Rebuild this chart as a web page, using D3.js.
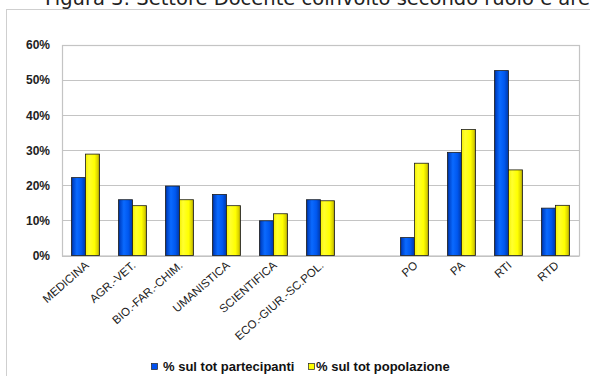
<!DOCTYPE html>
<html>
<head>
<meta charset="utf-8">
<script src="https://cdn.jsdelivr.net/npm/d3@7"></script>
<style>
  html, body { margin: 0; padding: 0; background: #ffffff; }
  svg { display: block; }
</style>
</head>
<body>
<svg id="chart" width="590" height="376"></svg>
<script>
// Categories (an empty slot separates the areas from the roles)
const categories = ["MEDICINA", "AGR.-VET.", "BIO.-FAR.-CHIM.", "UMANISTICA", "SCIENTIFICA",
                    "ECO.-GIUR.-SC.POL.", "", "PO", "PA", "RTI", "RTD"];
// Percent values per category
const partecipanti = [22.2, 15.9, 19.8, 17.4, 9.9, 15.9, null, 5.1, 29.4, 52.7, 13.5];
const popolazione  = [28.9, 14.2, 15.9, 14.2, 11.9, 15.6, null, 26.3, 35.9, 24.4, 14.3];
const seriesNames  = ["% sul tot partecipanti", "% sul tot popolazione"];
const yTicks = [0, 10, 20, 30, 40, 50, 60];
const titleText = "Figura 3: Settore Docente coinvolto secondo ruolo e area";

const svg = d3.select("#chart");
const plot = { left: 62, right: 579, top: 45, bottom: 255.5 };

// Gradients giving the bars their rounded, shaded look
const defs = svg.append("defs");
function grad(id, stops) {
  const g = defs.append("linearGradient").attr("id", id)
    .attr("x1", "0%").attr("x2", "100%").attr("y1", "0%").attr("y2", "0%");
  stops.forEach(([o, c]) => g.append("stop").attr("offset", o).attr("stop-color", c));
}
grad("gBlue", [["0%", "#002c8a"], ["14%", "#0048d0"], ["38%", "#0a6aff"], ["70%", "#0058f0"], ["100%", "#0038a8"]]);
grad("gYellow", [["0%", "#f4f000"], ["25%", "#ffff30"], ["65%", "#ffff00"], ["88%", "#d8d000"], ["100%", "#9a9000"]]);
const fills = ["url(#gBlue)", "url(#gYellow)"];
const swatch = ["#0050f0", "#ffff00"];

// Title (runs above the frame and past the right edge)
svg.append("text")
  .attr("x", 45).attr("y", 4.5)
  .attr("font-family", "DejaVu Sans, Verdana, sans-serif")
  .attr("font-size", 19.5)
  .attr("fill", "#222")
  .text(titleText);

// Outer frame lines
svg.append("line").attr("x1", 6).attr("x2", 590).attr("y1", 9.5).attr("y2", 9.5)
  .attr("stroke", "#cfcfcf").attr("stroke-width", 1);
svg.append("line").attr("x1", 6.5).attr("x2", 6.5).attr("y1", 9).attr("y2", 376)
  .attr("stroke", "#cfcfcf").attr("stroke-width", 1);

// Scales
const x = d3.scaleBand().domain(d3.range(categories.length))
  .range([plot.left, plot.right]).paddingInner(0).paddingOuter(0);
const y = d3.scaleLinear().domain([0, 60]).range([plot.bottom, plot.top]);
const groupW = 28;
const xs = d3.scaleBand().domain([0, 1]).range([0, groupW]).padding(0);

// Gridlines
svg.append("g").selectAll("line").data(yTicks).join("line")
  .attr("x1", plot.left).attr("x2", plot.right)
  .attr("y1", d => Math.round(y(d)) + 0.5).attr("y2", d => Math.round(y(d)) + 0.5)
  .attr("stroke", "#c4c4c4").attr("stroke-width", 1.2);

// Plot area border
svg.append("rect")
  .attr("x", plot.left + 0.5).attr("y", plot.top + 0.5)
  .attr("width", plot.right - plot.left).attr("height", plot.bottom - plot.top)
  .attr("fill", "none").attr("stroke", "#c4c4c4").attr("stroke-width", 1.2);

// Y axis labels
const yAxis = d3.axisLeft(y).tickValues(yTicks).tickFormat(d => d + "%").tickSize(0).tickPadding(12);
const ya = svg.append("g").attr("transform", `translate(${plot.left},0)`).call(yAxis);
ya.select(".domain").remove();
ya.selectAll("text")
  .attr("font-family", "Liberation Sans, Arial, sans-serif")
  .attr("font-size", 12).attr("font-weight", "bold").attr("fill", "#222");

// Bars
const seriesData = [partecipanti, popolazione];
const bars = svg.append("g");
seriesData.forEach((vals, si) => {
  bars.selectAll(null)
    .data(vals.map((v, i) => ({ v, i })).filter(d => d.v != null))
    .join("rect")
    .attr("x", d => x(d.i) + (x.bandwidth() - groupW) / 2 + xs(si))
    .attr("width", xs.bandwidth())
    .attr("y", d => y(d.v))
    .attr("height", d => y(0) - y(d.v))
    .attr("fill", fills[si])
    .attr("stroke", "#1c1c1c").attr("stroke-width", 0.8);
});

// X labels, rotated
svg.append("g").selectAll("text")
  .data(categories.map((c, i) => ({ c, i })).filter(d => d.c))
  .join("text")
  .attr("transform", d => `translate(${x(d.i) + x.bandwidth() / 2 + 4},${plot.bottom + 11}) rotate(-41)`)
  .attr("text-anchor", "end")
  .attr("font-family", "Liberation Sans, Arial, sans-serif")
  .attr("font-size", 11.5)
  .attr("fill", "#222")
  .text(d => d.c);

// Legend
const legend = [{ x: 151, tx: 163 }, { x: 308, tx: 316 }];
legend.forEach((l, i) => {
  svg.append("rect").attr("x", l.x + 0.5).attr("y", 363.5).attr("width", 6).attr("height", 6)
    .attr("fill", swatch[i]).attr("stroke", "#222").attr("stroke-width", 0.7);
  svg.append("text").attr("x", l.tx).attr("y", 371)
    .attr("font-family", "Liberation Sans, Arial, sans-serif")
    .attr("font-size", 13).attr("font-weight", "bold").attr("fill", "#111")
    .text(seriesNames[i]);
});
</script>
</body>
</html>
